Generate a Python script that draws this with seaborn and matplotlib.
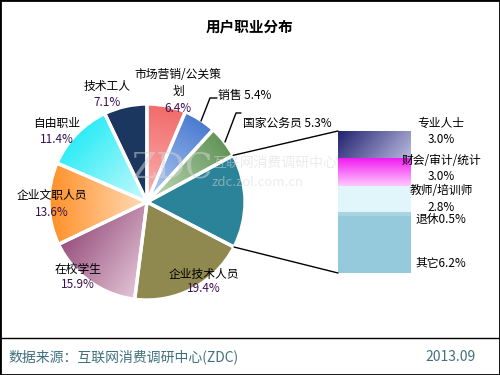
import matplotlib
matplotlib.use("Agg")
import matplotlib.pyplot as plt
import seaborn as sns
import numpy as np
from matplotlib.patches import ConnectionPatch, Rectangle, Wedge
from matplotlib.lines import Line2D
from matplotlib.colors import to_rgb

sns.set_theme(style="white")
plt.rcParams['font.family'] = ['Noto Sans CJK SC', 'DejaVu Sans']

# ---- data ----
pie_labels = ["市场营销/公关策划", "销售", "国家公务员", "其他", "企业技术人员",
              "在校学生", "企业文职人员", "自由职业", "技术工人"]
pie_values = [6.4, 5.4, 5.3, 15.5, 19.4, 15.9, 13.6, 11.4, 7.1]
pie_colors = ["#f88a8a", "#6f98dc", "#86b07f", "#2b8399", "#8f8950",
              "#bf88a8", "#fdb56b", "#5ff2f8", "#1b365f"]

bar_labels = ["其它", "退休", "教师/培训师", "财会/审计/统计", "专业人士"]
bar_values = [6.2, 0.5, 2.8, 3.0, 3.0]
bar_colors = ["#95c9dc", "#a8d4e0", "#e0f6fa", "#f860f8", "#6a6aa8"]

# gradient styling (dark colour, light colour, direction in degrees or 'in')
pie_grad = {
    0: ("#f26a6a", "#fcb4b4", "in"),
    1: ("#4a7ad0", "#b8d0f4", "in"),
    2: ("#629457", "#c4dcbd", "in"),
    5: ("#98507e", "#e2c4d6", -35),
    6: ("#ff9028", "#ffdcb8", "in"),
    7: ("#2cecf6", "#c8fafc", "in"),
}
bar_grad = {
    3: ("#f01cf0", "#ffc8ff", -90),
    4: ("#22226e", "#b8b8e0", -40),
}

W, H = 500, 375
fig = plt.figure(figsize=(5, 3.75), dpi=100)
fig.patch.set_facecolor("white")

def px(x, y):
    return (x / W, 1 - y / H)

def grad_image(ax, X, Y, mask, d, c0, c1, extent, clip):
    proj = X * d[0] + Y * d[1]
    vals = proj[mask]
    t = (proj - vals.min()) / (vals.max() - vals.min())
    t = np.clip(t, 0, 1)[..., None]
    img = np.array(to_rgb(c0)) * (1 - t) + np.array(to_rgb(c1)) * t
    im = ax.imshow(img, extent=extent, origin="lower", interpolation="bilinear",
                   zorder=1.5, aspect="auto")
    im.set_clip_path(clip)

# pie axes: center (147,202), radius 98 px
cx, cy, r = 147, 202, 98
axp = fig.add_axes([(cx - r) / W, 1 - (cy + r) / H, 2 * r / W, 2 * r / H])
wedges, _ = axp.pie(pie_values, colors=pie_colors, startangle=90, counterclock=False,
                    radius=1.0, wedgeprops=dict(edgecolor="none"))
n = 300
gx = np.linspace(-1, 1, n)
X, Y = np.meshgrid(gx, gx)
R = np.hypot(X, Y)
A = np.degrees(np.arctan2(Y, X))
for i, wdg in enumerate(wedges):
    if i not in pie_grad:
        continue
    c0, c1, dr = pie_grad[i]
    t1, t2 = wdg.theta1, wdg.theta2
    rel = (A - t1) % 360
    mask = (R <= 1) & (rel <= (t2 - t1))
    m = np.radians((t1 + t2) / 2)
    if dr == "in":
        d = (-np.cos(m), -np.sin(m))
    else:
        d = (np.cos(np.radians(dr)), np.sin(np.radians(dr)))
    grad_image(axp, X, Y, mask, d, c0, c1, [-1, 1, -1, 1], wdg)
# white separators on top
for wdg in wedges:
    axp.add_patch(Wedge((0, 0), 1.0, wdg.theta1, wdg.theta2, facecolor="none",
                        edgecolor="white", linewidth=2.4, zorder=3))
axp.set_xlim(-1, 1)
axp.set_ylim(-1, 1)
axp.set_aspect("equal")
axp.axis("off")

# bar axes
bx0, bx1, by0, by1 = 338, 411, 131, 273
axb = fig.add_axes([bx0 / W, 1 - by1 / H, (bx1 - bx0) / W, (by1 - by0) / H])
bottoms = np.concatenate([[0], np.cumsum(bar_values)[:-1]])
total = sum(bar_values)
for i, (v, b, c) in enumerate(zip(bar_values, bottoms, bar_colors)):
    bars = axb.bar(0, v, bottom=b, width=1.0, color=c, edgecolor="none")
    if i in bar_grad:
        c0, c1, dr = bar_grad[i]
        bxg = np.linspace(0, 1, 60)
        byg = np.linspace(0, 1, 60)
        BX, BY = np.meshgrid(bxg, byg)
        # work in pixel-like aspect: width 73, height of segment
        hpx = v / total * (by1 - by0)
        d = (np.cos(np.radians(dr)), np.sin(np.radians(dr)))
        proj = BX * 73 * d[0] + BY * hpx * d[1]
        t = (proj - proj.min()) / (proj.max() - proj.min())
        t = t[..., None]
        img = np.array(to_rgb(c0)) * (1 - t) + np.array(to_rgb(c1)) * t
        im = axb.imshow(img, extent=[-0.5, 0.5, b, b + v], origin="lower",
                        interpolation="bilinear", aspect="auto", zorder=2)
        im.set_clip_path(bars.patches[0])
axb.set_xlim(-0.5, 0.5)
axb.set_ylim(0, total)
axb.axis("off")

# connection lines
w = wedges[3]
for ang, yb in [(w.theta2, total), (w.theta1, 0)]:
    a = np.deg2rad(ang)
    con = ConnectionPatch(xyA=(np.cos(a), np.sin(a)), coordsA=axp.transData,
                          xyB=(-0.5, yb), coordsB=axb.transData,
                          color="black", linewidth=1.0)
    fig.add_artist(con)

# pie labels
name_c = "black"
pct_c = "#3a1050"
fs = 8.5
def two(x, y1, y2, name, pct):
    fig.text(*px(x, y1), name, ha="center", va="center", fontsize=fs, color=name_c)
    fig.text(*px(x, y2), pct, ha="center", va="center", fontsize=fs, color=pct_c)

fig.text(*px(178, 75), "市场营销/公关策", ha="center", va="center", fontsize=fs, color=name_c)
two(178, 91, 108, "划", "6.4%")
two(107, 86, 102, "技术工人", "7.1%")
two(57, 124, 140, "自由职业", "11.4%")
two(52, 195, 212, "企业文职人员", "13.6%")
two(78, 269, 285, "在校学生", "15.9%")
two(204, 274, 289, "企业技术人员", "19.4%")
fig.text(*px(218, 95), "销售 5.4%", ha="left", va="center", fontsize=fs, color=name_c)
fig.text(*px(243, 123), "国家公务员 5.3%", ha="left", va="center", fontsize=fs, color=name_c)

# leader lines (figure pixel coords)
def poly(pts):
    xs = [p[0] / W for p in pts]
    ys = [1 - p[1] / H for p in pts]
    fig.add_artist(Line2D(xs, ys, color="black", linewidth=1.0))
poly([(201, 121), (210, 98), (217, 98)])
poly([(225, 142), (236, 113), (241, 113)])

# bar labels
bl = [
    (263, None, "其它6.2%"),
    (219, None, "退休0.5%"),
    (190, 207, "教师/培训师", "2.8%"),
    (161, 176, "财会/审计/统计", "3.0%"),
    (123, 140, "专业人士", "3.0%"),
]
for item in bl:
    fig.text(*px(441, item[0]), item[2], ha="center", va="center", fontsize=fs, color=name_c)
    if item[1] is not None:
        fig.text(*px(441, item[1]), item[3], ha="center", va="center", fontsize=fs, color=name_c)

# watermark
fig.text(*px(172, 168), "ZDC", ha="center", va="center", fontsize=26, family="DejaVu Serif",
         color="#d8d8d8", alpha=0.5, zorder=10)
fig.text(*px(212, 163), "互联网消费调研中心", ha="left", va="center", fontsize=10,
         color="#d8d8d8", alpha=0.5, zorder=10)
fig.text(*px(212, 183), "zdc.zol.com.cn", ha="left", va="center", fontsize=9.5,
         color="#d8d8d8", alpha=0.5, zorder=10)

# title
fig.text(*px(250, 26), "用户职业分布", ha="center", va="center", fontsize=10.5,
         fontweight="bold", color="black")

# footer
fig.add_artist(Line2D([0, 1], [1 - 338 / H, 1 - 338 / H], color="black", linewidth=1.0))
fig.text(*px(8, 357), "数据来源：互联网消费调研中心(ZDC)", ha="left", va="center",
         fontsize=10, color="#41707f")
fig.text(*px(476, 357), "2013.09", ha="right", va="center", fontsize=10, color="#41707f")

# border
fig.add_artist(Rectangle((0, 0), 1, 1, transform=fig.transFigure, fill=False,
                         edgecolor="black", linewidth=2.0))

fig.savefig("out.png", dpi=100)
